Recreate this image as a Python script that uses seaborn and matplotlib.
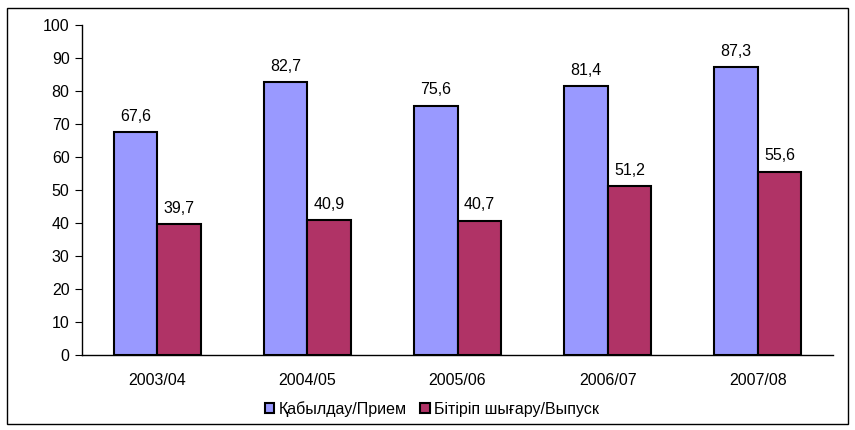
import matplotlib
matplotlib.use("Agg")
import matplotlib.pyplot as plt
import matplotlib.patches as mpatches
import seaborn as sns
import pandas as pd

# chart data
years = ["2003/04", "2004/05", "2005/06", "2006/07", "2007/08"]
admission = [67.6, 82.7, 75.6, 81.4, 87.3]
graduation = [39.7, 40.9, 40.7, 51.2, 55.6]
series_names = ["Қабылдау/Прием", "Бітіріп шығару/Выпуск"]
colors = ["#9999FF", "#B03366"]

df = pd.DataFrame({
    "year": years * 2,
    "value": admission + graduation,
    "series": [series_names[0]] * len(years) + [series_names[1]] * len(years),
})

sns.set_style("white")
plt.rcParams["font.family"] = ["Liberation Sans", "DejaVu Sans"]
plt.rcParams["text.color"] = "black"
plt.rcParams["xtick.color"] = "black"
plt.rcParams["ytick.color"] = "black"
fs = 11.5

fig = plt.figure(figsize=(8.55, 4.3), dpi=100)
ax = fig.add_axes([82 / 855, 1 - 355 / 430, (833 - 82) / 855, (355 - 25) / 430])

sns.barplot(data=df, x="year", y="value", hue="series", palette=colors, saturation=1,
            width=0.58, edgecolor="black", linewidth=1.5, ax=ax, legend=False)

# value labels
for container in ax.containers:
    ax.bar_label(container, labels=[f"{v:.1f}".replace(".", ",") for v in container.datavalues],
                 padding=6, fontsize=fs, color="black")

ax.set_ylim(0, 100)
ax.set_xlim(-0.5, len(years) - 0.5)
ax.set_yticks(range(0, 101, 10))
ax.set_xlabel("")
ax.set_ylabel("")
for s in ["top", "right"]:
    ax.spines[s].set_visible(False)
for s in ["left", "bottom"]:
    ax.spines[s].set_color("black")
    ax.spines[s].set_linewidth(1)

# ticks between categories on x axis
ax.set_xticks([i - 0.5 for i in range(len(years) + 1)], minor=True)
ax.tick_params(axis="x", which="major", length=0, pad=13, labelsize=fs, labelcolor="black")
ax.tick_params(axis="x", which="minor", length=5, direction="out", color="black")
ax.tick_params(axis="y", length=5, direction="out", color="black", labelsize=fs, pad=4,
               left=True, labelcolor="black")

handles = [mpatches.Patch(facecolor=c, edgecolor="black", linewidth=1.5) for c in colors]
fig.legend(handles, series_names, loc="center", bbox_to_anchor=(432 / 855, 1 - 409 / 430),
           ncol=2, frameon=False, fontsize=fs, handlelength=0.6, handleheight=0.6,
           handletextpad=0.3, columnspacing=0.8, labelcolor="black")

# outer chart border
fig.patches.append(mpatches.Rectangle((7 / 855, 1 - 424 / 430), 841 / 855, 416 / 430,
                                      transform=fig.transFigure, fill=False,
                                      edgecolor="black", linewidth=1))

fig.savefig("out.png", dpi=100)
